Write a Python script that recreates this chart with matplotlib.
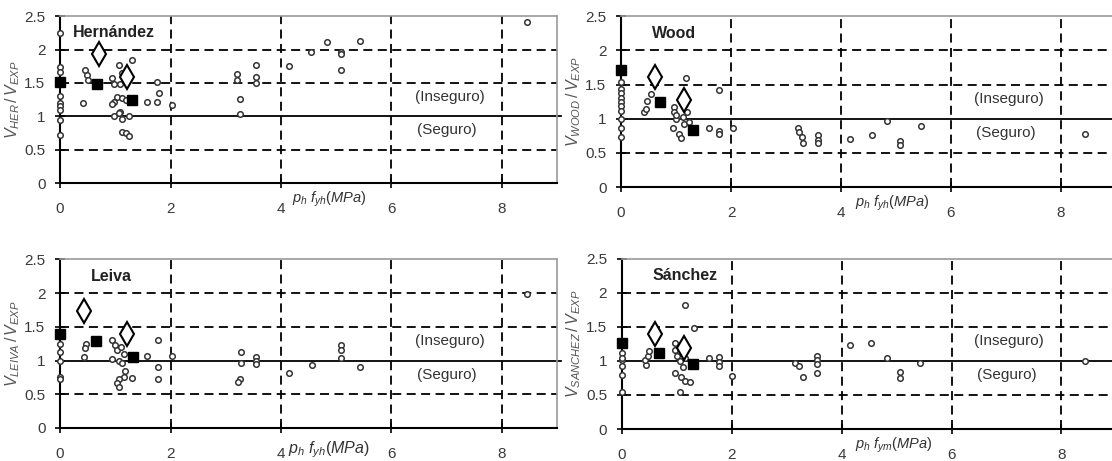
import numpy as np
import matplotlib
matplotlib.use('Agg')
import matplotlib.pyplot as plt

plt.rcParams['font.family'] = ['Liberation Sans', 'DejaVu Sans']
plt.rcParams['mathtext.fontset'] = 'custom'
plt.rcParams['mathtext.rm'] = 'Liberation Sans'
plt.rcParams['mathtext.it'] = 'Liberation Sans:italic'

# Hernandez
her_x = [0, 0, 0, 0, 0, 0, 0, 0, 0,
         0.45, 0.48, 0.5, 0.42,
         1.06, 1.30, 0.94, 0.97, 1.09, 1.12, 1.03, 1.12, 0.97, 0.94, 0.97, 1.09,
         1.24, 1.12, 1.12, 1.2, 1.24, 1.06, 1.2,
         1.58, 1.76, 1.79, 1.76, 2.03, 3.21, 3.21, 3.26, 3.26, 3.55, 3.55, 3.55,
         4.15, 4.55, 4.84, 5.09, 5.09, 5.09, 5.44, 8.45]
her_y = [2.25, 1.74, 1.67, 1.3, 1.2, 1.15, 1.1, 0.95, 0.72,
         1.69, 1.62, 1.55, 1.2,
         1.77, 1.84, 1.57, 1.49, 1.49, 1.65, 1.29, 1.27, 1.22, 1.18, 1.0, 1.06,
         1.0, 0.96, 0.77, 0.75, 0.70, 1.05, 1.25,
         1.22, 1.52, 1.35, 1.22, 1.17, 1.64, 1.54, 1.26, 1.04, 1.77, 1.59, 1.5,
         1.76, 1.97, 2.12, 1.97, 1.93, 1.70, 2.13, 2.41]
her_sq_x = [0, 0.67, 1.31]
her_sq_y = [1.52, 1.49, 1.25]
her_d_x = [0.70, 1.22]
her_d_y = [1.93, 1.59]

# Wood
wood_x = [0, 0, 0, 0, 0, 0, 0, 0, 0, 0,
          0.42, 0.45, 0.48, 0.54,
          1.18, 0.97, 0.97, 1.0, 0.94, 1.06, 1.09, 1.2, 1.12, 1.15, 1.0, 1.24,
          1.60, 1.79, 1.79, 1.79, 2.04, 3.21, 3.24, 3.3, 3.31, 3.58, 3.58, 3.58,
          4.16, 4.56, 4.84, 5.07, 5.07, 5.45, 8.44]
wood_y = [1.54, 1.43, 1.37, 1.3, 1.25, 1.18, 1.12, 1.0, 0.86, 0.74,
          1.10, 1.14, 1.26, 1.36,
          1.59, 1.17, 1.10, 0.99, 0.86, 0.78, 0.72, 1.10, 1.03, 0.92, 1.05, 0.95,
          0.86, 1.42, 0.82, 0.78, 0.86, 0.86, 0.81, 0.74, 0.64, 0.76, 0.69, 0.64,
          0.71, 0.76, 0.97, 0.68, 0.62, 0.89, 0.77]
wood_sq_x = [0, 0.70, 1.30]
wood_sq_y = [1.71, 1.25, 0.83]
wood_d_x = [0.62, 1.14]
wood_d_y = [1.61, 1.27]

# Leiva
lei_x = [0, 0, 0, 0, 0,
         0.47, 0.46, 0.44,
         0.94, 1.0, 1.03, 0.94, 1.06, 1.12, 1.18, 1.15, 1.06, 1.03, 1.06, 1.3, 1.1, 1.15,
         1.58, 1.78, 1.78, 1.78, 2.03, 3.25, 3.23, 3.27, 3.27, 3.55, 3.55, 3.55,
         4.14, 4.56, 5.08, 5.08, 5.08, 5.44, 8.45]
lei_y = [1.25, 1.13, 0.99, 0.76, 0.72,
         1.25, 1.18, 1.05,
         1.31, 1.23, 1.16, 1.02, 1.0, 0.97, 0.85, 0.75, 0.72, 0.67, 0.60, 0.74, 1.2, 1.1,
         1.06, 1.31, 0.90, 0.72, 1.06, 0.72, 0.68, 1.13, 0.97, 1.05, 1.0, 0.95,
         0.82, 0.93, 1.23, 1.16, 1.03, 0.90, 1.99]
lei_sq_x = [0, 0.65, 1.32]
lei_sq_y = [1.39, 1.29, 1.05]
lei_d_x = [0.44, 1.21]
lei_d_y = [1.73, 1.39]

# Sanchez
san_x = [0, 0, 0, 0, 0, 0,
         0.45, 0.42, 0.48, 0.5,
         1.16, 1.31, 0.97, 0.97, 1.0, 1.06, 1.12, 0.97, 1.08, 1.15, 1.25, 1.07, 1.15,
         1.59, 1.77, 1.77, 1.77, 2.01, 3.15, 3.22, 3.3, 3.56, 3.56, 3.56, 3.56,
         4.15, 4.54, 4.82, 5.07, 5.07, 5.43, 8.42]
san_y = [1.12, 1.01, 0.92, 0.80, 0.55, 1.05,
         0.94, 1.01, 1.08, 1.15,
         1.82, 1.48, 1.26, 1.16, 1.07, 1.0, 0.91, 0.83, 0.76, 0.71, 0.69, 0.55, 1.05,
         1.04, 1.06, 0.99, 0.92, 0.78, 0.97, 0.92, 0.77, 1.08, 1.01, 0.96, 0.83,
         1.24, 1.27, 1.04, 0.84, 0.75, 0.97, 1.0]
san_sq_x = [0, 0.68, 1.30]
san_sq_y = [1.26, 1.12, 0.96]
san_d_x = [0.6, 1.13]
san_d_y = [1.40, 1.19]

# name, subscript, data, axes box, name x, xlabel subscript, xlabel pos, xlabel size
panels = [
    ('Hernández', 'HER', her_x, her_y, her_sq_x, her_sq_y, her_d_x, her_d_y,
     [0.054, 0.603, 0.447, 0.362], 0.24, 'yh', (4.2, -0.25), 10.5),
    ('Wood', 'WOOD', wood_x, wood_y, wood_sq_x, wood_sq_y, wood_d_x, wood_d_y,
     [0.5585, 0.594, 0.445, 0.371], 0.56, 'yh', (4.25, -0.23), 10.5),
    ('Leiva', 'LEIVA', lei_x, lei_y, lei_sq_x, lei_sq_y, lei_d_x, lei_d_y,
     [0.054, 0.0716, 0.447, 0.366], 0.55, 'yh', (4.12, -0.32), 11.5),
    ('Sánchez', 'SANCHEZ', san_x, san_y, san_sq_x, san_sq_y, san_d_x, san_d_y,
     [0.559, 0.0694, 0.445, 0.369], 0.56, 'ym', (4.25, -0.24), 10.5),
]

fig = plt.figure(figsize=(11.12, 4.61), dpi=100)

for name, sub, cx, cy, sx, sy, dx, dy, pos, tx, sub_x, lab, lab_fs in panels:
    ax = fig.add_axes(pos)
    ax.set_xlim(0, 9)
    ax.set_ylim(0, 2.5)
    ax.set_xticks([0, 2, 4, 6, 8])
    ax.set_yticks([0, 0.5, 1, 1.5, 2, 2.5])
    ax.set_yticklabels(['0', '0.5', '1', '1.5', '2', '2.5'])
    ax.tick_params(direction='inout', length=7, width=1.2, labelsize=11,
                   labelcolor='#3a3a3a', color='black')
    ax.tick_params(axis='x', pad=10)
    ax.tick_params(axis='y', pad=7)
    for g in [2, 4, 6, 8]:
        ax.axvline(g, color='black', lw=1.3, ls=(0, (5, 3)), zorder=1)
    for g in [0.5, 1.5, 2]:
        ax.axhline(g, color='black', lw=1.3, ls=(0, (5, 3)), zorder=1)
    ax.axhline(1, xmin=0, xmax=1.008, color='black', lw=1.3, zorder=1, clip_on=False)
    ax.spines['left'].set_linewidth(1.5)
    ax.spines['bottom'].set_linewidth(1.5)
    ax.spines['top'].set_color('#9a9a9a')
    ax.spines['right'].set_color('#9a9a9a')
    ax.spines['top'].set_linewidth(1.2)
    ax.spines['right'].set_linewidth(1.2)

    ax.plot(cx, cy, 'o', ms=4, mfc='white', mec='#333333', mew=1.1, ls='none',
            zorder=3, clip_on=False)
    ax.plot(sx, sy, 's', ms=7, mfc='black', mec='black', ls='none', zorder=4,
            clip_on=False)
    ax.plot(dx, dy, 'd', ms=12, mfc='white', mec='black', mew=1.5, ls='none',
            zorder=5)

    ax.text(tx, 2.25, name, fontsize=11.5, fontweight='bold', va='center',
            ha='left', color='#222222')
    ax.text(7.05, 1.29, '(Inseguro)', fontsize=11, ha='center', va='center',
            color='#333333')
    ax.text(7.0, 0.79, '(Seguro)', fontsize=11, ha='center', va='center',
            color='#333333')
    ax.set_ylabel(r'$V_{%s}\,/\,V_{EXP}$' % sub, fontsize=11.5, color='#555555',
                  labelpad=2)
    ax.text(lab[0], lab[1], r'$p_h\ f_{%s}(MPa)$' % sub_x, fontsize=lab_fs,
            color='#333333', ha='left', va='center', clip_on=False)

fig.savefig('out.png', dpi=100)
